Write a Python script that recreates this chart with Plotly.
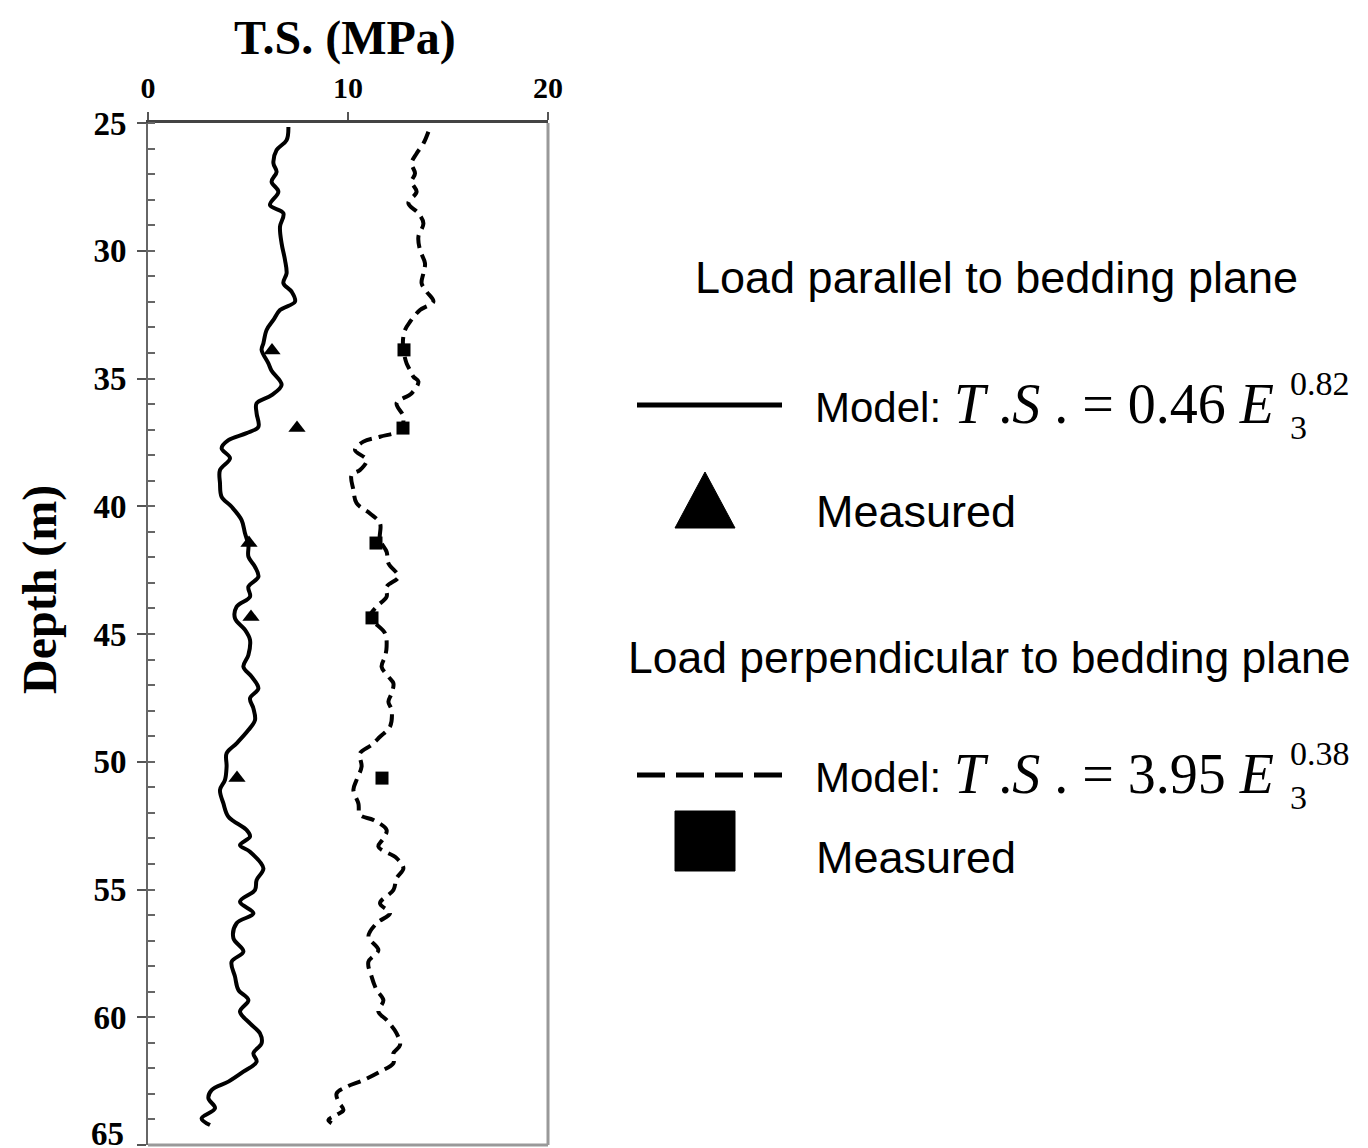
import plotly.graph_objects as go

# ---------------- data ----------------
par_depth = [25.16, 25.67, 26.06, 26.57, 26.91, 27.30, 27.69, 28.21, 28.53, 29.06, 29.71, 30.36, 30.88,
             31.27, 31.60, 31.99, 32.32, 32.71, 33.10, 33.62, 33.88, 34.41, 34.70, 35.25, 35.65, 35.97,
             36.36, 36.89, 37.14, 37.41, 37.73, 38.12, 38.58, 39.10, 39.63, 40.02, 40.54, 41.06, 41.52,
             41.97, 42.37, 42.76, 43.15, 43.54, 43.93, 44.39, 44.84, 45.23, 45.82, 46.28, 46.67, 47.13,
             47.52, 47.91, 48.37, 48.76, 49.28, 49.67, 50.19, 50.71, 51.10, 51.63, 52.15, 52.67, 52.93,
             53.26, 53.52, 54.17, 54.63, 55.02, 55.48, 55.93, 56.32, 56.91, 57.43, 57.83, 58.41, 58.93,
             59.33, 59.78, 60.24, 60.63, 61.02, 61.41, 61.74, 62.13, 62.52, 62.85, 63.17, 63.56, 63.96, 64.22]
par_ts = [7.02, 6.93, 6.43, 6.27, 6.43, 6.18, 6.52, 6.10, 6.77, 6.60, 6.68, 6.85, 6.93,
          6.77, 7.18, 7.35, 6.60, 6.27, 5.93, 5.77, 5.68, 6.02, 6.18, 6.68, 6.18, 5.43,
          5.43, 5.52, 4.93, 4.02, 3.68, 4.10, 3.60, 3.60, 3.68, 4.18, 4.68, 4.85, 5.02,
          5.02, 5.35, 5.52, 5.02, 5.10, 4.43, 4.35, 4.85, 5.10, 5.02, 4.77, 5.18, 5.52,
          5.10, 5.27, 5.35, 5.02, 4.43, 3.93, 3.93, 3.85, 3.60, 3.77, 4.02, 4.93, 5.10,
          4.60, 5.10, 5.77, 5.43, 5.35, 4.60, 5.27, 4.43, 4.27, 4.77, 4.18, 4.35, 4.52,
          5.02, 4.60, 5.10, 5.60, 5.68, 5.27, 5.43, 4.77, 4.02, 3.18, 3.02, 3.35, 2.68, 3.10]

perp_depth = [25.34, 25.80, 26.19, 26.58, 26.97, 27.30, 27.69, 28.14, 28.53, 28.93, 29.45, 29.97, 30.49,
              30.88, 31.27, 31.60, 31.99, 32.32, 32.78, 33.10, 33.49, 33.88, 34.41, 34.67, 34.93, 35.12,
              35.58, 35.97, 36.50, 37.02, 37.28, 37.47, 37.80, 38.19, 38.58, 38.78, 39.36, 39.88, 40.28,
              40.67, 41.32, 41.78, 42.23, 42.76, 43.15, 43.54, 43.93, 44.32, 44.97, 45.50, 45.89, 46.28,
              46.67, 46.93, 47.32, 47.65, 47.97, 48.63, 49.02, 49.34, 49.67, 50.19, 50.71, 51.10, 51.63,
              52.08, 52.28, 52.67, 53.00, 53.32, 53.77, 54.17, 54.56, 55.02, 55.54, 55.93, 56.32, 56.85,
              57.37, 57.83, 58.41, 58.93, 59.33, 59.78, 60.11, 60.63, 61.09, 61.41, 61.80, 62.13, 62.46,
              62.72, 62.98, 63.30, 63.63, 63.82, 64.02, 64.15]
perp_ts = [14.02, 13.77, 13.43, 13.18, 13.35, 13.18, 13.43, 13.02, 13.52, 13.77, 13.52, 13.60, 13.85,
           13.77, 13.68, 13.93, 14.27, 13.60, 13.10, 12.85, 12.75, 12.77, 12.93, 13.10, 13.27, 13.52,
           13.18, 12.43, 12.77, 12.60, 11.60, 10.77, 10.35, 10.93, 10.60, 10.18, 10.27, 10.43, 11.10,
           11.60, 11.60, 11.93, 12.02, 12.52, 11.93, 11.93, 11.43, 11.10, 11.85, 11.93, 11.85, 11.68,
           12.02, 12.27, 12.18, 12.02, 12.18, 12.10, 11.60, 11.18, 10.60, 10.68, 10.43, 10.27, 10.52,
           10.60, 11.27, 11.93, 11.77, 11.52, 12.43, 12.77, 12.43, 12.27, 11.60, 12.10, 11.43, 11.02,
           11.52, 11.02, 11.18, 11.43, 11.77, 11.52, 11.93, 12.43, 12.60, 12.27, 12.27, 11.60, 10.77,
           9.93, 9.43, 9.52, 9.77, 9.43, 9.02, 9.18]

meas_par_depth = [33.9, 36.94, 41.44, 44.33, 50.64]
meas_par_ts = [6.2, 7.45, 5.05, 5.15, 4.45]
meas_perp_depth = [33.88, 36.94, 41.44, 44.37, 50.64]
meas_perp_ts = [12.8, 12.75, 11.4, 11.2, 11.7]

x_ticks = [0, 10, 20]
y_ticks = [25, 30, 35, 40, 45, 50, 55, 60, 65]

# ---------------- layout helpers (page pixel -> paper) ----------------
OFF = 8                      # default page margin around the figure
L, R, T, B = 148, 548, 123, 1145   # plot area in page pixels
W, H = 1352, 1150


def px(x):
    return (x - L) / (R - L)


def py(y):
    return (B - y) / (B - T)


SANS = "Liberation Sans, Arial, sans-serif"
SERIF = "Liberation Serif, Times New Roman, serif"

fig = go.Figure()
fig.add_trace(go.Scatter(x=par_ts, y=par_depth, mode="lines", line=dict(color="black", width=4, shape="spline"),
                         name="Model parallel", showlegend=False))
fig.add_trace(go.Scatter(x=perp_ts, y=perp_depth, mode="lines",
                         line=dict(color="black", width=4, dash="13px,7px", shape="spline"),
                         name="Model perpendicular", showlegend=False))
fig.add_trace(go.Scatter(x=meas_par_ts, y=meas_par_depth, mode="markers",
                         marker=dict(symbol="triangle-up", size=15, color="black"),
                         name="Measured parallel", showlegend=False))
fig.add_trace(go.Scatter(x=meas_perp_ts, y=meas_perp_depth, mode="markers",
                         marker=dict(symbol="square", size=13, color="black"),
                         name="Measured perpendicular", showlegend=False))
fig.add_trace(go.Scatter(x=[None], y=[None], yaxis="y2", showlegend=False, hoverinfo="skip"))

# the last depth label sits on the window edge; it is drawn as an annotation lifted slightly
y_ticktext = [str(v) for v in y_ticks[:-1]] + [""]

ml = L - OFF
mt = T - OFF
fig.update_layout(
    width=W, height=H, autosize=False,
    margin=dict(l=ml, r=W - ml - (R - L), t=mt, b=H - mt - (B - T)),
    paper_bgcolor="white", plot_bgcolor="white",
    xaxis=dict(range=[0, 20], side="top", tickvals=x_ticks, ticktext=[str(v) for v in x_ticks],
               ticks="outside", ticklen=8, tickwidth=1.5, tickcolor="#555", automargin=False,
               showline=True, linecolor="#444", linewidth=2.5, showgrid=False, zeroline=False,
               tickfont=dict(family=SERIF, size=30, color="black", weight="bold"),
               ticklabelstandoff=2),
    yaxis=dict(range=[65, 25], tickvals=y_ticks, ticktext=y_ticktext,
               ticks="outside", ticklen=9, tickwidth=1.5, tickcolor="#555", automargin=False,
               minor=dict(ticks="inside", ticklen=7, dtick=1, tickwidth=1.5, tickcolor="#666", showgrid=False),
               showline=True, linecolor="#666", linewidth=2, showgrid=False, zeroline=False,
               tickfont=dict(family=SERIF, size=33, color="black", weight="bold"),
               ticklabelstandoff=4),
    yaxis2=dict(range=[65, 25], overlaying="y", side="left", tickvals=y_ticks, ticks="inside", ticklen=7,
                tickwidth=1.5, tickcolor="#666", showticklabels=False, showline=False, showgrid=False,
                zeroline=False, automargin=False),
)

fig.add_shape(type="line", xref="paper", yref="paper", x0=1, x1=1, y0=0, y1=1,
              line=dict(color="#999", width=3))
fig.add_shape(type="line", xref="paper", yref="paper", x0=0, x1=1, y0=0, y1=0,
              line=dict(color="#999", width=3))

ann = []
ann.append(dict(text="<b>" + str(y_ticks[-1]) + "</b>", x=px(126), y=py(1134), xanchor="right",
                font=dict(family=SERIF, size=33, color="black")))
ann.append(dict(text="<b>T.S. (MPa)</b>", x=px(345), y=py(38), font=dict(family=SERIF, size=48, color="black")))
ann.append(dict(text="<b>Depth (m)</b>", x=px(40), y=py(590), textangle=-90,
                font=dict(family=SERIF, size=48, color="black")))

ann.append(dict(text="Load parallel to bedding plane", x=px(996), y=py(277),
                font=dict(family=SANS, size=45, color="black")))
ann.append(dict(text="Load perpendicular to bedding plane", x=px(989), y=py(657),
                font=dict(family=SANS, size=44.5, color="black")))
for yy, coef, expo in [(407, "0.46", "0.82"), (777, "3.95", "0.38")]:
    ann.append(dict(text="Model:", x=px(813), y=py(yy), xanchor="left",
                    font=dict(family=SANS, size=42, color="black")))
    ann.append(dict(text="<i>T </i>.<i>S </i>. = " + coef + " <i>E</i>", x=px(952), y=py(yy - 3), xanchor="left",
                    font=dict(family=SERIF, size=56, color="black")))
    ann.append(dict(text=expo, x=px(1288), y=py(yy - 24), xanchor="left",
                    font=dict(family=SERIF, size=34, color="black")))
    ann.append(dict(text="3", x=px(1288), y=py(yy + 20), xanchor="left",
                    font=dict(family=SERIF, size=34, color="black")))
for yy in [512, 857]:
    ann.append(dict(text="Measured", x=px(814), y=py(yy), xanchor="left",
                    font=dict(family=SANS, size=45, color="black")))

for a in ann:
    a.update(xref="paper", yref="paper", showarrow=False)
    a.setdefault("xanchor", "center")
    a.setdefault("yanchor", "middle")
fig.update_layout(annotations=ann)

fig.add_shape(type="line", xref="paper", yref="paper", x0=px(637), x1=px(782), y0=py(405), y1=py(405),
              line=dict(color="black", width=5))
fig.add_shape(type="line", xref="paper", yref="paper", x0=px(637), x1=px(782), y0=py(775), y1=py(775),
              line=dict(color="black", width=5, dash="28px,11px"))
fig.add_shape(type="path", xref="paper", yref="paper",
              path=f"M {px(675)},{py(528)} L {px(735)},{py(528)} L {px(705)},{py(472)} Z",
              fillcolor="black", line=dict(color="black", width=1))
fig.add_shape(type="rect", xref="paper", yref="paper", x0=px(675), x1=px(735), y0=py(871), y1=py(811),
              fillcolor="black", line=dict(color="black", width=1))

fig.write_html("out.html")
